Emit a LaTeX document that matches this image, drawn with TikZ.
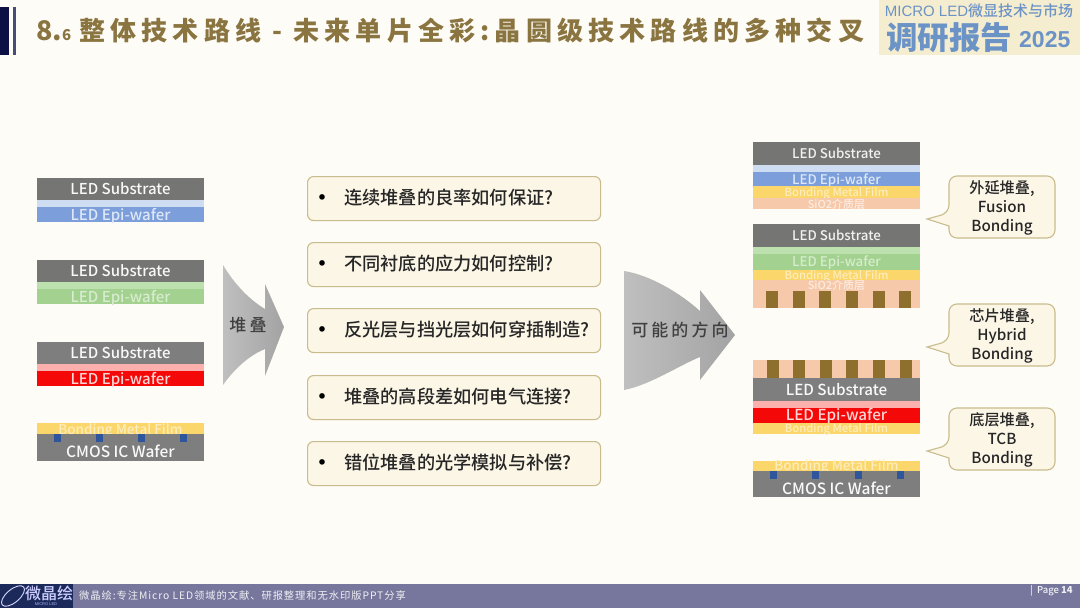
\documentclass[tikz,border=0pt]{standalone}
\usepackage{fontspec}
\setmainfont{Noto Sans CJK SC Medium}
\setsansfont{Liberation Sans}
\newfontfamily\ttlfont[LetterSpace=20]{Noto Sans CJK SC}
\newfontfamily\arrfont[LetterSpace=18]{Noto Sans CJK SC Medium}
\newfontfamily\ftfont[LetterSpace=9]{Noto Sans CJK SC}
\definecolor{bgc}{HTML}{FEFCF6}
\definecolor{navy}{HTML}{0C1045}
\definecolor{gold}{HTML}{8A7440}
\definecolor{bann}{HTML}{F5EDD0}
\definecolor{bannb}{HTML}{6C93C6}
\definecolor{foot}{HTML}{77779D}
\definecolor{logoc}{HTML}{1B2A5A}
\definecolor{grayA}{HTML}{757573}
\definecolor{grayB}{HTML}{7E7E7E}
\definecolor{blueL}{HTML}{CFDDF3}
\definecolor{blueM}{HTML}{7C9FDB}
\definecolor{greenL}{HTML}{BCE0AE}
\definecolor{greenM}{HTML}{A3D18F}
\definecolor{pinkL}{HTML}{FBB0AE}
\definecolor{redM}{HTML}{F50808}
\definecolor{yel}{HTML}{FBD66B}
\definecolor{salm}{HTML}{F6C9AB}
\definecolor{brn}{HTML}{8F6F2E}
\definecolor{padb}{HTML}{2F559C}
\definecolor{boxf}{HTML}{FBF6E6}
\definecolor{boxd}{HTML}{C9BC8C}
\tikzset{
  x=1pt,y=-1pt,
  layer/.style={anchor=north west,inner sep=0pt,outer sep=0pt,minimum width=167pt,text=white},
  qbox/.style={anchor=north west,draw=boxd,line width=1.1pt,fill=boxf,rounded corners=6pt,minimum width=293pt,minimum height=44pt,inner sep=0pt},
  qtext/.style={anchor=west,inner sep=0pt,font=\fontsize{18.2}{20}\selectfont,text=black!85},
  bullet/.style={anchor=center,inner sep=0pt,font=\fontsize{24}{26}\selectfont,text=black},
  call/.style={draw=boxd,line width=1.1pt,fill=boxf,rounded corners=8pt},
  calltext/.style={anchor=center,align=center,inner sep=0pt,font=\fontsize{15.2}{19.3}\selectfont,text=black!85},
  pillar/.style={anchor=north west,inner sep=0pt,outer sep=0pt,fill=brn,minimum width=12pt,minimum height=17pt},
  pad/.style={anchor=north west,inner sep=0pt,outer sep=0pt,fill=padb,minimum width=7pt,minimum height=8pt},
}
\newcommand\lay[4]{\node[layer,fill=#4,minimum height=#3pt] (#1) at (#2) {};}
\newcommand\lbl[5]{\node[inner sep=0pt,text=#3,font=\fontsize{#4}{#4}\selectfont,anchor=center] (#1t) at ([yshift=#5pt]#1.center) {#2};}
\begin{document}
\begin{tikzpicture}
\useasboundingbox (0,0) rectangle (1080,608);
\fill[bgc] (0,0) rectangle (1080,608);

% header
\node[anchor=north west,inner sep=0pt,fill=navy,minimum width=9pt,minimum height=48pt] (barA) at (0,7) {};
\node[anchor=north west,inner sep=0pt,fill=navy!75,minimum width=3pt,minimum height=48pt] (barB) at (13,7) {};
\node[anchor=west,inner sep=0pt,text=gold,font=\fontsize{27}{29}\selectfont\bfseries] (title) at (36,31) {8.\fontsize{15}{17}\selectfont 6\fontsize{26}{28}\selectfont\ \hspace{2pt}\ttlfont\bfseries 整体技术路线 - 未来单片全彩:晶圆级技术路线的多种交叉};
\node[anchor=north west,inner sep=0pt,fill=bann,minimum width=201pt,minimum height=55pt] (banner) at (879,0) {};
\node[anchor=center,inner sep=0pt,text=bannb,font=\fontsize{15}{17}\selectfont] (bannerA) at (979,11) {\sffamily MICRO LED\rmfamily 微显技术与市场};
\node[anchor=west,inner sep=0pt,text=bannb,font=\fontsize{31.5}{33}\selectfont\bfseries] (bannerB) at (886,38) {调研报告};
\node[anchor=west,inner sep=0pt,text=bannb,font=\fontsize{23}{25}\selectfont\bfseries\sffamily] (bannerC) at (1019,40) {2025};

% left stacks
\lay{a1}{37,178}{22}{grayA}\lbl{a1}{LED Substrate}{white!95!gray}{15}{0}
\lay{a1b}{37,200}{7}{blueL}
\lay{a1c}{37,207}{15}{blueM}\lbl{a1c}{LED Epi-wafer}{blueL!70!white}{15}{-2}

\lay{a2}{37,260}{22}{grayA}\lbl{a2}{LED Substrate}{white!95!gray}{15}{0}
\lay{a2b}{37,282}{7}{greenL}
\lay{a2c}{37,289}{15}{greenM}\lbl{a2c}{LED Epi-wafer}{greenL!60!white}{15}{-2}

\lay{a3}{37,342}{22}{grayB}\lbl{a3}{LED Substrate}{white!95!gray}{15}{0}
\lay{a3b}{37,364}{7}{pinkL}
\lay{a3c}{37,371}{15}{redM}\lbl{a3c}{LED Epi-wafer}{pinkL!50!white}{15}{-2}

\lay{a4}{37,423}{11}{yel}\lbl{a4}{Bonding Metal Film}{yel!45!white}{13.5}{-2.5}
\lay{a4b}{37,434}{27}{grayB}
\node[inner sep=0pt,text=white!95!gray,font=\fontsize{15.5}{17}\selectfont] (a4bt) at (120.5,451) {CMOS IC Wafer};
\foreach \n/\x in {1/54,2/96,3/138,4/180}{\node[pad] (ap\n) at (\x,434) {};}

% arrow 1
\shade[left color=black!25,middle color=black!20,right color=black!36] (223,265) .. controls (235,285) and (250,300) .. (265,309) -- (265,284) -- (284,327) -- (265,376) -- (265,349) .. controls (250,355) and (235,368) .. (223,385) -- cycle;
\node[inner sep=0pt,anchor=center,text=black!75,font=\fontsize{17}{19}\selectfont] (arrA) at (248,325) {\arrfont 堆叠};

% questions
\node[qbox] (q1) at (307,176) {};
\node[qbox] (q2) at (307,242) {};
\node[qbox] (q3) at (307,308) {};
\node[qbox] (q4) at (307,375) {};
\node[qbox] (q5) at (307,441) {};
\foreach \n/\t in {1/连续堆叠的良率如何保证?,2/不同衬底的应力如何控制?,3/反光层与挡光层如何穿插制造?,4/堆叠的高段差如何电气连接?,5/错位堆叠的光学模拟与补偿?}{
  \node[bullet] (b\n) at ([xshift=-132pt,yshift=-2pt]q\n.center) {•};
  \node[qtext] (t\n) at ([xshift=-110pt,yshift=1pt]q\n.center) {\t};
}

% arrow 2
\shade[left color=black!25,middle color=black!20,right color=black!36] (624,271) .. controls (650,275) and (680,293) .. (700,311) -- (700,290) -- (735,335) -- (700,380) -- (700,357) .. controls (680,365) and (650,385) .. (624,390) -- cycle;
\node[inner sep=0pt,anchor=center,text=black!75,font=\fontsize{17}{19}\selectfont] (arrB) at (680,330) {\arrfont 可能的方向};

% right stacks
\lay{c1}{753,142}{23}{grayA}\lbl{c1}{LED Substrate}{white!90!gray}{13.3}{0}
\lay{c1b}{753,165}{7}{blueL}
\lay{c1c}{753,172}{14}{blueM}\lbl{c1c}{LED Epi-wafer}{blueL!70!white}{13.3}{-1.5}
\lay{c1d}{753,186}{12}{yel}\lbl{c1d}{Bonding Metal Film}{yel!45!white}{11.3}{-1}
\lay{c1e}{753,198}{11}{salm}\lbl{c1e}{SiO2介质层}{salm!35!white}{11}{-1}

\lay{c2}{753,224}{23}{grayA}\lbl{c2}{LED Substrate}{white!90!gray}{13.3}{0}
\lay{c2b}{753,247}{7}{greenL}
\lay{c2c}{753,254}{16}{greenM}\lbl{c2c}{LED Epi-wafer}{greenL!60!white}{13.3}{-1}
\lay{c2d}{753,270}{10}{yel}\lbl{c2d}{Bonding Metal Film}{yel!45!white}{11.3}{-1}
\lay{c2e}{753,280}{28}{salm}
\node[inner sep=0pt,text=salm!35!white,font=\fontsize{11}{12}\selectfont] (c2et) at (836.5,285) {SiO2介质层};
\foreach \n/\x in {1/766,2/793,3/819,4/846,5/873,6/899}{\node[pillar] (cp\n) at (\x,291) {};}

\lay{c3}{753,360}{18}{salm}
\foreach \n/\x in {1/767,2/793,3/820,4/846,5/873,6/900}{\node[pillar,minimum height=18pt] (dp\n) at (\x,360) {};}
\lay{c3a}{753,378}{23}{grayB}\lbl{c3a}{LED Substrate}{white!95!gray}{15.2}{0}
\lay{c3b}{753,401}{7}{pinkL}
\lay{c3c}{753,408}{15}{redM}\lbl{c3c}{LED Epi-wafer}{pinkL!50!white}{15.2}{-1}
\lay{c3d}{753,423}{11}{yel}\lbl{c3d}{Bonding Metal Film}{yel!45!white}{11.2}{-1}

\lay{c4}{753,461}{10}{yel}\lbl{c4}{Bonding Metal Film}{yel!45!white}{13.5}{-1}
\lay{c4b}{753,471}{26}{grayB}
\node[inner sep=0pt,text=white!95!gray,font=\fontsize{15.5}{17}\selectfont] (c4bt) at (836.5,488) {CMOS IC Wafer};
\foreach \n/\x in {1/770,2/812,3/855,4/897}{\node[pad] (cq\n) at (\x,471) {};}

% callouts
\draw[call] (1055,176) -- (949,176) -- (949,213) [sharp corners] -- (927,219) -- (949,226) [rounded corners=8pt] -- (949,238) -- (1055,238) -- cycle;
\node[calltext] (k1) at (1002,208) {外延堆叠,\\Fusion\\Bonding};
\draw[call] (1055,304) -- (949,304) -- (949,341) [sharp corners] -- (927,347) -- (949,354) [rounded corners=8pt] -- (949,366) -- (1055,366) -- cycle;
\node[calltext] (k2) at (1002,336) {芯片堆叠,\\Hybrid\\Bonding};
\draw[call] (1055,408) -- (949,408) -- (949,445) [sharp corners] -- (927,451) -- (949,458) [rounded corners=8pt] -- (949,470) -- (1055,470) -- cycle;
\node[calltext] (k3) at (1002,440) {底层堆叠,\\TCB\\Bonding};

% footer
\node[anchor=north west,inner sep=0pt,fill=foot,minimum width=1080pt,minimum height=24pt] (footer) at (0,584) {};
\node[anchor=north west,inner sep=0pt,fill=logoc,minimum width=73pt,minimum height=24pt] (logo) at (0,584) {};
\draw[white!85!blue,line width=.9pt,rotate around={40:(13,596)}] (13,596) ellipse (14pt and 6.5pt);
\node[inner sep=0pt,text=white!80!blue,font=\fontsize{16}{17}\selectfont] (logoA) at (49,593) {微晶绘};
\node[inner sep=0pt,text=white!70!blue,font=\fontsize{4}{5}\selectfont\sffamily] (logoB) at (46,604) {MICRO LED};
\node[anchor=west,inner sep=0pt,text=white!88!foot,font=\fontsize{10.3}{12}\selectfont] (ftxt) at (79,596) {\ftfont 微晶绘:专注Micro LED领域的文献、研报整理和无水印版PPT分享};
\node[anchor=west,inner sep=0pt,text=white!90!foot,font=\fontsize{9.5}{11}\selectfont] (pg) at (1030,591) {|\ \ Page \textbf{14}};
\end{tikzpicture}
\end{document}
